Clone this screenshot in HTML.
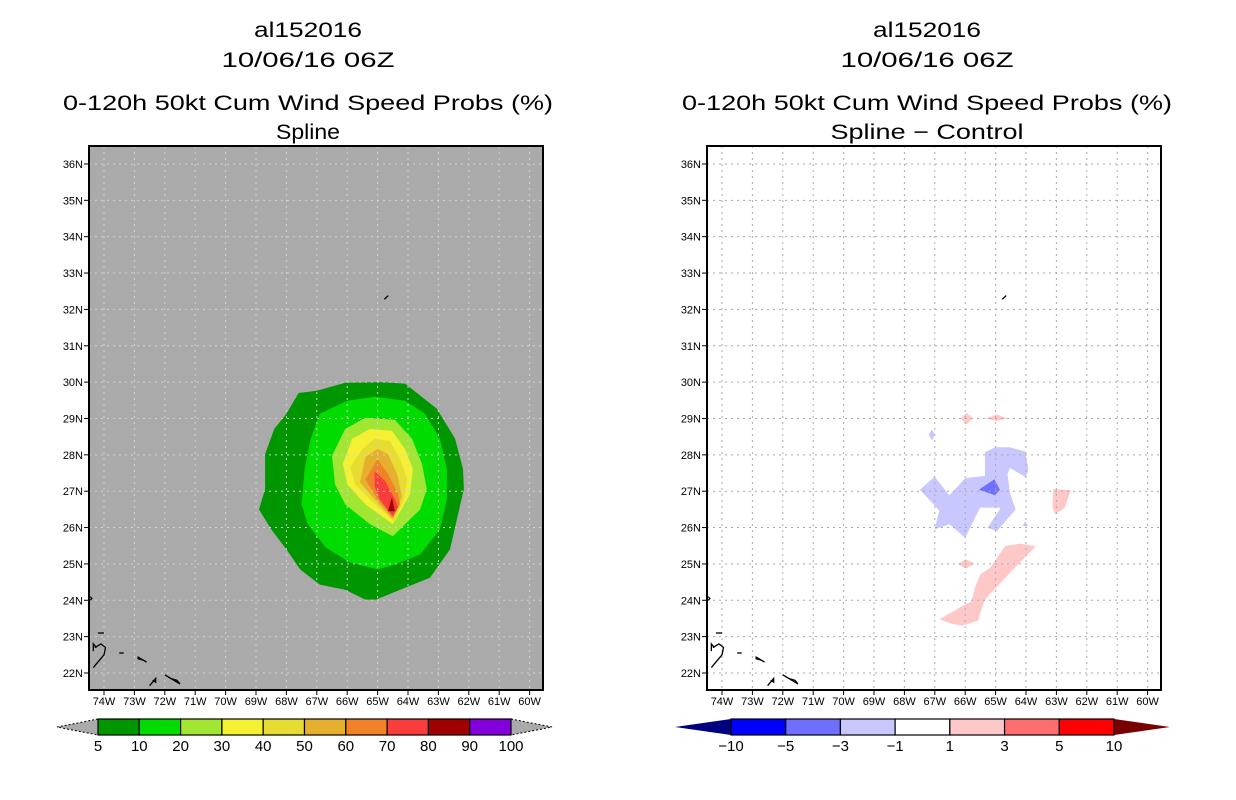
<!DOCTYPE html>
<html><head><meta charset="utf-8"><style>
html,body{margin:0;padding:0;background:#fff;}
svg{display:block;font-family:"Liberation Sans",sans-serif;}
</style></head><body>
<svg id="fig" width="1236" height="800" viewBox="0 0 1236 800">
<g id="left"></g>
<g id="right"></g>
</svg>
<script>
const NS="http://www.w3.org/2000/svg";
// ---- data ----
const lonTicks=[74,73,72,71,70,69,68,67,66,65,64,63,62,61,60];
const latTicks=[22,23,24,25,26,27,28,29,30,31,32,33,34,35,36];
const probLevels=["5","10","20","30","40","50","60","70","80","90","100"];
const probColors=["#009600","#00dc00","#a0e632","#f5f032","#e6dc32","#e6af2d","#f08228","#fa3c3c","#a00000","#8200dc"];
const diffLevels=["−10","−5","−3","−1","1","3","5","10"];
const diffColors=["#0000ff","#6e6eff","#c8c8ff","#ffffff","#ffc8c8","#ff6e6e","#ff0000"];
const probC5=[[-67.6,29.7],[-67.0,29.76],[-66.07,29.98],[-64.9,30.0],[-64.1,29.96],[-63.05,29.27],[-62.45,28.44],[-62.19,27.61],[-62.16,27.06],[-62.39,26.23],[-62.62,25.4],[-63.28,24.62],[-64.26,24.29],[-65.05,24.02],[-65.4,24.02],[-66.07,24.29],[-66.9,24.43],[-67.55,24.85],[-68.0,25.4],[-68.5,25.95],[-68.9,26.5],[-68.7,27.06],[-68.7,28.02],[-68.4,28.71],[-68.0,29.13]];
const probC10=[[-66.9,29.13],[-66.0,29.49],[-65.1,29.6],[-64.1,29.49],[-63.44,29.13],[-62.95,28.44],[-62.72,27.61],[-62.72,26.78],[-62.95,25.95],[-63.6,25.26],[-64.43,24.98],[-65.0,24.85],[-65.9,25.04],[-66.7,25.45],[-67.3,26.09],[-67.5,26.64],[-67.4,27.61],[-67.2,28.44]];
const probC20=[[-66.07,28.71],[-65.4,29.02],[-64.43,28.96],[-63.87,28.44],[-63.54,27.75],[-63.38,27.06],[-63.6,26.5],[-64.5,25.76],[-65.25,26.09],[-66.07,26.64],[-66.4,27.19],[-66.5,27.97]];
const probC30=[[-65.84,28.44],[-65.25,28.71],[-64.53,28.66],[-64.1,28.16],[-63.84,27.61],[-63.93,26.92],[-64.5,26.09],[-65.4,26.64],[-66.0,27.19],[-66.14,27.75]];
const probC40=[[-65.5,28.16],[-65.1,28.44],[-64.6,28.38],[-64.26,27.88],[-64.03,27.33],[-64.13,26.78],[-64.46,26.17],[-65.25,26.78],[-65.74,27.19],[-65.9,27.66]];
const probC50=[[-65.4,27.94],[-65.0,28.16],[-64.66,28.02],[-64.36,27.47],[-64.2,26.86],[-64.5,26.23],[-65.1,26.78],[-65.58,27.25]];
const probC60=[[-65.0,27.88],[-64.66,27.47],[-64.33,26.92],[-64.26,26.64],[-64.5,26.28],[-65.0,26.78],[-65.4,27.33]];
const probC70=[[-65.1,27.55],[-64.76,27.28],[-64.43,26.78],[-64.33,26.56],[-64.5,26.31],[-64.93,26.78],[-65.1,27.14]];
const probC80=[[-64.53,26.83],[-64.43,26.45],[-64.66,26.45]];
const probContours=[[0,probC5],[1,probC10],[2,probC20],[3,probC30],[4,probC40],[5,probC50],[6,probC60],[7,probC70],[8,probC80]];
const diffBlue=[[-67.49,27.04],[-67.01,27.4],[-66.52,26.89],[-66.0,27.36],[-65.35,27.42],[-65.35,28.07],[-65.02,28.21],[-64.53,28.21],[-64.03,28.09],[-63.92,27.61],[-64.0,27.38],[-64.53,27.64],[-64.61,27.47],[-64.53,26.96],[-64.34,26.5],[-64.96,25.9],[-65.27,26.0],[-64.86,26.5],[-64.86,26.55],[-65.51,26.55],[-66.0,25.72],[-66.52,26.09],[-67.01,25.95],[-66.85,26.46]];
const diffBlue2=[[-65.55,27.04],[-65.04,27.33],[-64.86,27.04],[-65.02,26.89]];
const diffBlueS1=[[-67.1,28.7],[-67.0,28.55],[-67.1,28.4],[-67.2,28.55]];
const diffBlueS2=[[-64.03,26.18],[-63.95,26.04],[-64.11,26.04]];
const diffPink1=[[-65.95,29.16],[-65.75,29.0],[-65.95,28.84],[-66.15,29.0]];
const diffPink2=[[-64.96,29.11],[-64.6,29.0],[-64.96,28.93],[-65.35,29.0]];
const diffPink3=[[-63.1,27.06],[-62.53,27.03],[-62.72,26.55],[-63.05,26.36],[-63.13,26.6]];
const diffPink4=[[-65.97,25.13],[-65.7,25.0],[-65.97,24.87],[-66.25,25.0]];
const diffPink5=[[-66.85,23.48],[-66.12,23.83],[-65.79,23.97],[-65.68,24.34],[-65.51,24.71],[-65.18,24.89],[-64.69,25.49],[-64.2,25.56],[-63.67,25.49],[-64.42,24.85],[-65.35,24.02],[-65.51,23.65],[-65.57,23.44],[-66.12,23.3],[-66.5,23.37]];
const diffContours=[[2,diffBlue],[1,diffBlue2],[2,diffBlueS1],[2,diffBlueS2],[4,diffPink1],[4,diffPink2],[4,diffPink3],[4,diffPink4],[4,diffPink5]];

function el(tag,attrs,parent){const e=document.createElementNS(NS,tag);for(const k in attrs)e.setAttribute(k,attrs[k]);parent.appendChild(e);return e;}
function panel(g,x0,cx,bg,gridCol,title4,contours,colors,tw4){
  const X=lon=>x0+15+(lon+74)*30.4;
  const Y=lat=>673-(lat-22)*36.36;
  const L=x0, R=x0+454, T=146, B=690;
  const t=[["al152016",30,108],["10/06/16 06Z",60,173],["0-120h 50kt Cum Wind Speed Probs (%)",103,490],[title4,132,tw4]];
  t.forEach((a,i)=>{const e=el("text",{x:cx,y:a[1]+7,"text-anchor":"middle","font-size":"21",textLength:a[2],lengthAdjust:"spacingAndGlyphs",fill:"#000"},g);e.textContent=a[0];
    
    });
  const bgR=el("rect",{x:L,y:T,width:R-L,height:B-T,fill:bg},g);
  
  
  contours.forEach(c=>{const p=el("polygon",{points:c[1].map(v=>X(v[0]).toFixed(1)+","+Y(v[1]).toFixed(1)).join(" "),fill:colors[c[0]]},g);
    
    });
  lonTicks.forEach(v=>{const x=X(-v);
    const gl=el("line",{x1:x,y1:T,x2:x,y2:B,stroke:gridCol,"stroke-width":1,"stroke-dasharray":"2,4"},g);
    
    
    el("line",{x1:x,y1:B,x2:x,y2:B+5,stroke:"#000"},g);
    const tx=el("text",{x:x,y:B+15,"text-anchor":"middle","font-size":"11",fill:"#000"},g);tx.textContent=v+"W";
    
    });
  latTicks.forEach(v=>{const y=Y(v);
    const gl=el("line",{x1:L,y1:y,x2:R,y2:y,stroke:gridCol,"stroke-width":1,"stroke-dasharray":"2,4"},g);
    
    
    el("line",{x1:L-5,y1:y,x2:L,y2:y,stroke:"#000"},g);
    const tx=el("text",{x:L-6,y:y+4,"text-anchor":"end","font-size":"11",fill:"#000"},g);tx.textContent=v+"N";
    
    });
  const coast=[
   [[-64.78,32.28],[-64.65,32.38]],
   [[-74.2,23.1],[-74.0,23.1]],
   [[-74.3,22.7],[-74.1,22.8],[-73.95,22.7],[-74.0,22.5],[-74.3,22.2],[-74.35,22.15]],
   [[-74.35,22.6],[-74.35,22.8],[-74.25,22.7]],
   [[-73.5,22.55],[-73.35,22.55]],
   [[-72.9,22.4],[-72.7,22.35],[-72.6,22.3],[-72.9,22.45]],
   [[-72.0,21.95],[-71.8,21.85],[-71.6,21.8],[-71.5,21.7],[-71.9,21.9]],
   [[-72.4,21.8],[-72.3,21.75],[-72.3,21.85],[-72.5,21.65]],
   [[-74.45,24.1],[-74.4,24.05],[-74.45,24.0]]];
  coast.forEach(c=>{const p=el("polyline",{points:c.map(v=>X(v[0])+","+Y(v[1])).join(" "),fill:"none",stroke:"#000","stroke-width":1.3},g);
    
    });
  const fr=el("rect",{x:L,y:T,width:R-L,height:B-T,fill:"none",stroke:"#000","stroke-width":2},g);
  
  
}
function colorbar(g,x0,x1,step,colors,labels,triL,triR,dashTri,ext){
  const y0=719,y1=735,ym=727;
  const a=el("polygon",{points:`${x0},${y0} ${x0-ext},${ym} ${x0},${y1}`,fill:triL,stroke:dashTri?"#000":"none","stroke-dasharray":"2,2"},g);
  
  
  const b=el("polygon",{points:`${x1},${y0} ${x1+ext},${ym} ${x1},${y1}`,fill:triR,stroke:dashTri?"#000":"none","stroke-dasharray":"2,2"},g);
  
  
  colors.forEach((c,i)=>{const r=el("rect",{x:x0+i*step,y:y0,width:step,height:y1-y0,fill:c,stroke:"#000","stroke-width":1.2},g);
    
    });
  labels.forEach((l,i)=>{const t=el("text",{x:x0+i*step,y:751,"text-anchor":"middle","font-size":"15",fill:"#000"},g);t.textContent=l;
    
    });
}
const gl=document.getElementById("left"), gr=document.getElementById("right");
panel(gl,89,308,"#aaaaaa","#d2d2d2","Spline",probContours,probColors,64);
panel(gr,707,927,"#ffffff","#aaaaaa","Spline − Control",diffContours,diffColors,193);
colorbar(gl,98,511,41.3,probColors,probLevels,"#aaaaaa","#aaaaaa",true,41);
colorbar(gr,731,1114,54.71,diffColors,diffLevels,"#000080","#780000",false,56);
</script>
</body></html>
